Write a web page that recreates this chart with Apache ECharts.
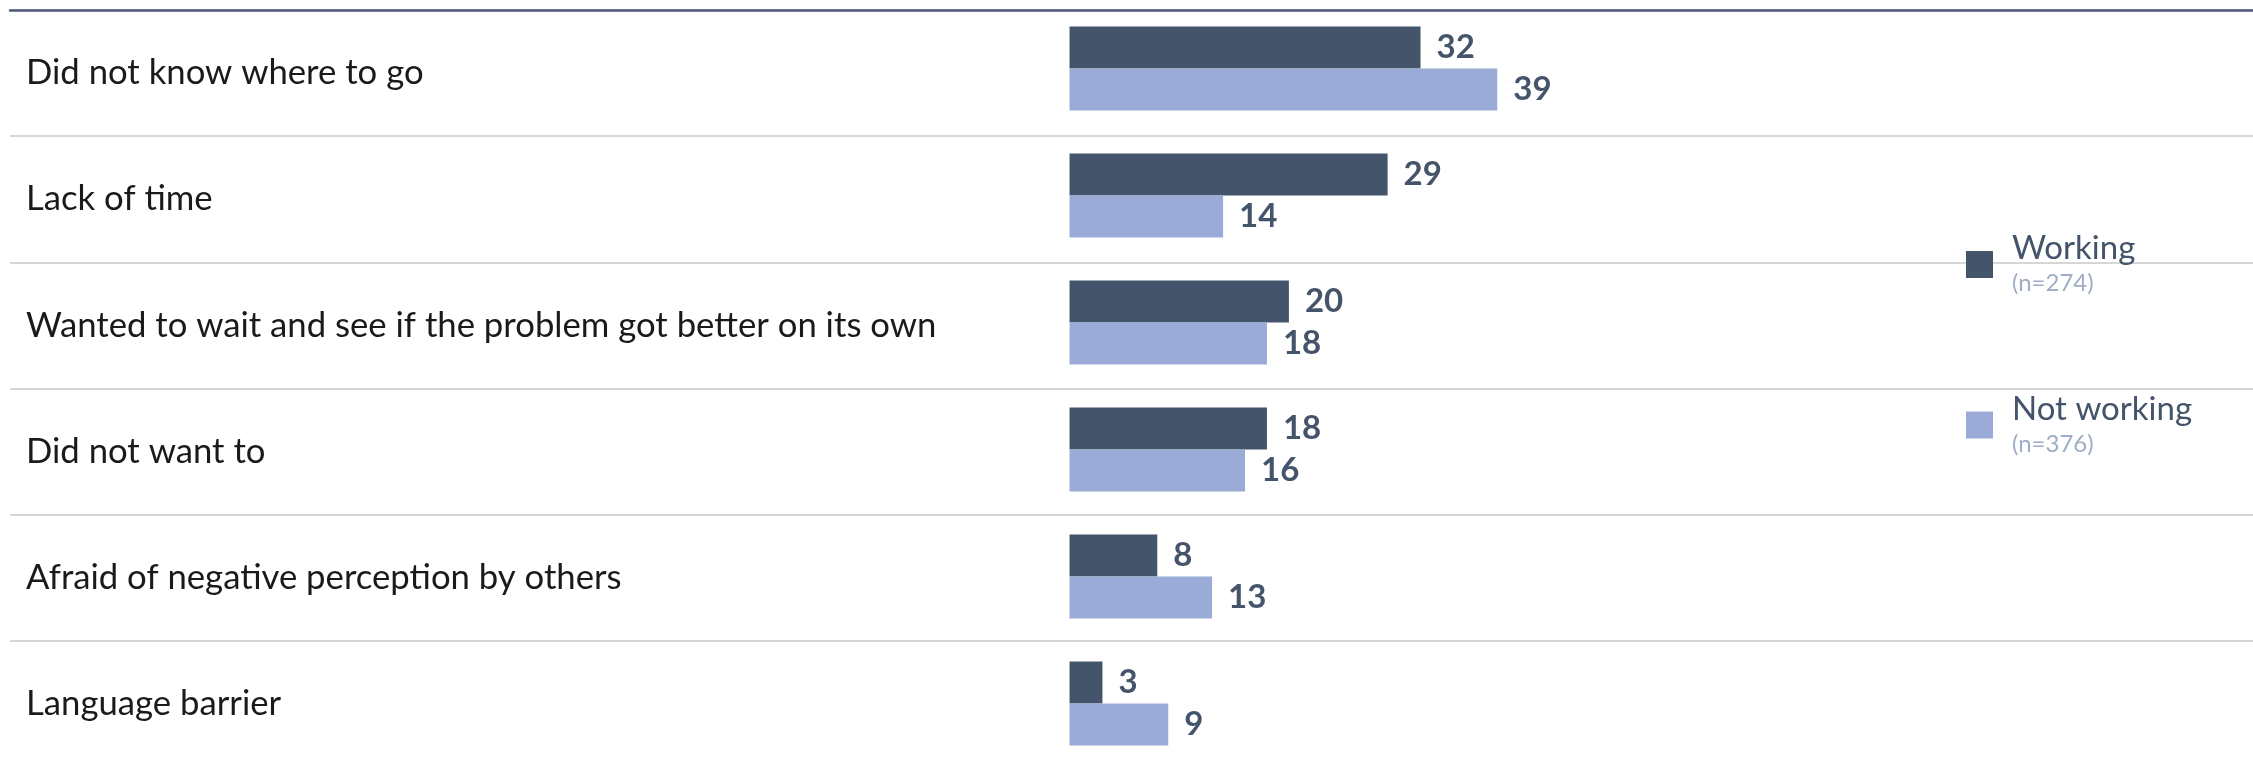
<!DOCTYPE html>
<html>
<head>
<meta charset="utf-8">
<title>Reasons for not seeking help</title>
<script src="https://cdn.jsdelivr.net/npm/echarts@6/dist/echarts.min.js"></script>
<style>
  html, body { margin: 0; padding: 0; background: #ffffff; }
  #chart { width: 2253px; height: 762px; }
</style>
</head>
<body>
<div id="chart"></div>
<script>
// Reasons, listed top to bottom
const categories = [
  'Did not know where to go',
  'Lack of time',
  'Wanted to wait and see if the problem got better on its own',
  'Did not want to',
  'Afraid of negative perception by others',
  'Language barrier'
];

// Percentages per group
const seriesNames = ['Working', 'Not working'];
const workingValues = [32, 29, 20, 18, 8, 3];
const notWorkingValues = [39, 14, 18, 16, 13, 9];
const sampleNotes = ['(n=274)', '(n=376)'];

const DARK = '#44546A';
const LIGHT = '#99ABD6';
const FONT = 'Lato, "Open Sans", sans-serif';

const chart = echarts.init(document.getElementById('chart'), null, { renderer: 'canvas' });

const valueLabel = {
  show: true, position: 'right', distance: 16,
  fontFamily: FONT, fontSize: 33, fontWeight: 'bold', color: DARK
};

chart.setOption({
  backgroundColor: '#ffffff',
  animation: false,
  textStyle: { fontFamily: FONT },
  grid: [
    // row labels and separators
    { left: 10, right: 0, top: 10, height: 757, outerBoundsMode: 'none', containLabel: false },
    // bars
    { left: 10, right: 0, top: 5, height: 762, outerBoundsMode: 'none', containLabel: false }
  ],
  legend: {
    orient: 'vertical',
    left: 1966,
    top: 232,
    padding: 0,
    itemWidth: 27,
    itemHeight: 27,
    itemGap: 97,
    icon: 'rect',
    data: seriesNames,
    formatter: function (name) {
      const i = seriesNames.indexOf(name);
      return '{a|' + name + '}\n{b|' + sampleNotes[i] + '}';
    },
    textStyle: {
      padding: [0, 0, 0, 14],
      rich: {
        a: { fontFamily: FONT, fontSize: 33, lineHeight: 38, color: DARK },
        b: { fontFamily: FONT, fontSize: 24, lineHeight: 32, color: '#9FAEC7' }
      }
    }
  },
  xAxis: [
    {
      type: 'value',
      gridIndex: 0,
      position: 'top',
      min: 0,
      max: 1,
      axisLine: { show: true, onZero: false, lineStyle: { color: '#4D5A78', width: 2.5 } },
      axisTick: { show: false },
      axisLabel: { show: false },
      splitLine: { show: false }
    },
    {
      type: 'value',
      gridIndex: 1,
      min: -96.6,
      max: 107.9,
      axisLine: { show: false },
      axisTick: { show: false },
      axisLabel: { show: false },
      splitLine: { show: false }
    }
  ],
  yAxis: [
    {
      type: 'category',
      gridIndex: 0,
      inverse: true,
      data: categories,
      axisLine: { show: false },
      axisTick: { show: false },
      axisLabel: {
        inside: true,
        margin: 16,
        align: 'left',
        fontFamily: FONT,
        fontSize: 34.7,
        color: '#1A1A1A'
      },
      splitLine: { show: true, lineStyle: { color: '#C9C9C9', width: 1.5 } }
    },
    {
      type: 'category',
      gridIndex: 1,
      inverse: true,
      data: categories,
      axisLine: { show: false },
      axisTick: { show: false },
      axisLabel: { show: false },
      splitLine: { show: false }
    }
  ],
  series: [
    {
      name: seriesNames[0],
      type: 'bar',
      xAxisIndex: 1,
      yAxisIndex: 1,
      data: workingValues,
      barWidth: 42,
      barGap: '0%',
      itemStyle: { color: DARK },
      label: valueLabel,
      z: 3
    },
    {
      name: seriesNames[1],
      type: 'bar',
      xAxisIndex: 1,
      yAxisIndex: 1,
      data: notWorkingValues,
      barWidth: 42,
      barGap: '0%',
      itemStyle: { color: LIGHT },
      label: valueLabel,
      z: 3
    }
  ]
});
</script>
</body>
</html>
